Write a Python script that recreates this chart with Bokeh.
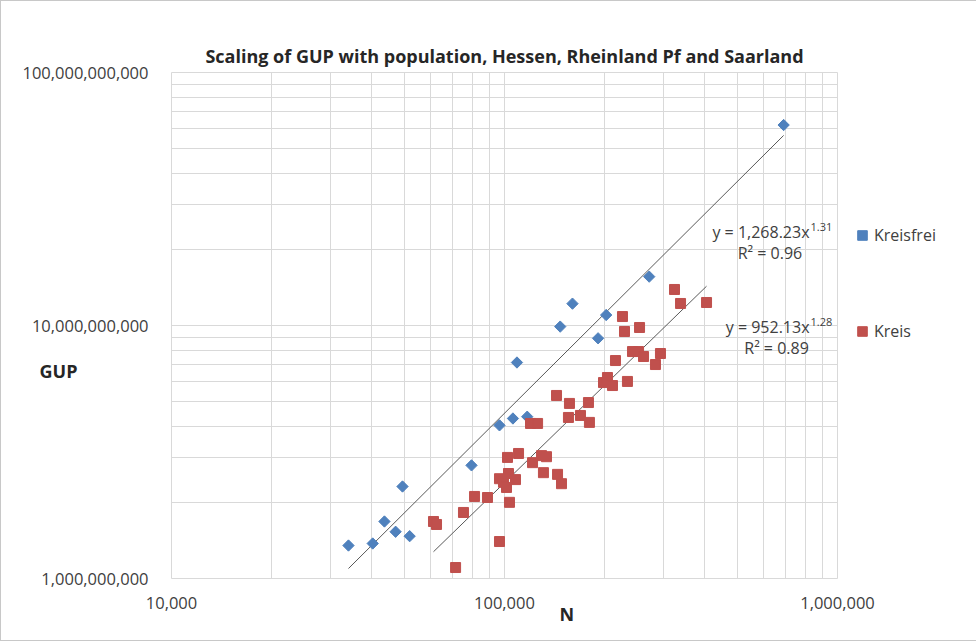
import math
from bokeh.plotting import figure
from bokeh.models import (Range1d, FixedTicker, NumeralTickFormatter, Legend,
                          LegendItem, Label, Title, ColumnDataSource)
from bokeh.embed import file_html
from bokeh.resources import INLINE

# ---------------- data ----------------
kreisfrei_n = [34000, 40200, 43600, 47100, 49400, 51900, 79600, 96600, 106000,
               117000, 109000, 147000, 160000, 191000, 202000, 272000, 689000]
kreisfrei_gup = [1.35e9, 1.375e9, 1.68e9, 1.53e9, 2.31e9, 1.47e9, 2.80e9, 4.03e9,
                 4.29e9, 4.36e9, 7.14e9, 9.9e9, 1.22e10, 8.9e9, 1.10e10, 1.56e10, 6.2e10]

kreis_n = [71300, 61200, 62500, 75300, 81300, 88900, 96600, 103500, 102100,
           110200, 96600, 99300, 102800, 101400, 107900, 119700, 125700, 121400,
           129200, 133700, 130900, 144300, 148300, 143300, 156700, 155600, 169100,
           179900, 178700, 198300, 203800, 211000, 215400, 234000, 226100, 229300,
           254400, 242300, 252700, 261500, 294000, 284000, 324000, 337800, 404300]
kreis_gup = [1.105e9, 1.68e9, 1.635e9, 1.824e9, 2.11e9, 2.09e9, 1.40e9, 2.0e9,
             3.01e9, 3.12e9, 2.48e9, 2.40e9, 2.60e9, 2.29e9, 2.46e9, 4.10e9, 4.10e9,
             2.87e9, 3.06e9, 3.03e9, 2.62e9, 2.58e9, 2.37e9, 5.29e9, 4.92e9, 4.33e9,
             4.41e9, 4.14e9, 4.96e9, 5.95e9, 6.23e9, 5.79e9, 7.27e9, 6.01e9, 1.085e10,
             9.47e9, 9.82e9, 7.89e9, 7.89e9, 7.54e9, 7.75e9, 7.01e9, 1.388e10,
             1.222e10, 1.233e10]

# power-law trendlines (coefficients as printed on the chart)
kreisfrei_a, kreisfrei_b, kreisfrei_r2 = 1268.23, 1.31, 0.96
kreis_a, kreis_b, kreis_r2 = 952.13, 1.28, 0.89

x_ticks = [1e4, 1e5, 1e6]
y_ticks = [1e9, 1e10, 1e11]

title_text = "Scaling of GUP with population, Hessen, Rheinland Pf and Saarland"

# ---------------- styles ----------------
BLUE = "#4F81BD"
RED = "#C0504D"
GRID = "#d9d9d9"
TXT = "#404040"
FONT = "Open Sans"

p = figure(frame_width=666, frame_height=506, x_axis_type="log", y_axis_type="log",
           x_range=Range1d(1e4, 1e6), y_range=Range1d(1e9, 1e11),
           output_backend="svg", toolbar_location=None,
           min_border_left=170, min_border_right=136,
           min_border_top=71, min_border_bottom=62,
           title=title_text)
p.styles = {"border": "1px solid #c8c8c8"}

p.title.align = "center"
p.title.text_font = FONT
p.title.text_font_size = "18px"
p.title.text_font_style = "bold"
p.title.text_color = "#262626"

p.outline_line_color = GRID
p.background_fill_color = "white"
p.border_fill_color = "white"

p.xaxis.ticker = FixedTicker(ticks=x_ticks,
                             minor_ticks=[m * 10 ** k for k in (4, 5) for m in range(2, 10)])
p.yaxis.ticker = FixedTicker(ticks=y_ticks,
                             minor_ticks=[m * 10 ** k for k in (9, 10) for m in range(2, 10)])
for ax in (p.xaxis[0], p.yaxis[0]):
    ax.formatter = NumeralTickFormatter(format="0,0")
    ax.axis_line_color = None
    ax.major_tick_line_color = None
    ax.minor_tick_line_color = None
    ax.major_label_text_font = FONT
    ax.major_label_text_font_size = "16.5px"
    ax.major_label_text_color = TXT
p.xaxis.major_label_standoff = 12
p.yaxis.major_label_standoff = 17

# y axis title, horizontal, sitting below the 10^10 label as in the reference
p.yaxis.axis_label = "\nGUP"
p.yaxis.axis_label_orientation = "horizontal"
p.yaxis.axis_label_text_font = FONT
p.yaxis.axis_label_text_font_size = "18px"
p.yaxis.axis_label_text_font_style = "bold"
p.yaxis.axis_label_text_color = "#262626"
p.yaxis.axis_label_text_line_height = 3.75
p.yaxis.axis_label_standoff = -58

for g in (p.xgrid[0], p.ygrid[0]):
    g.grid_line_color = GRID
    g.minor_grid_line_color = GRID

# x axis title, shifted right like the reference
p.add_layout(Title(text="N", align="left", offset=388, standoff=-24,
                   text_font=FONT, text_font_size="18px", text_font_style="bold",
                   text_color="#262626", text_baseline="bottom"), "below")

# trendlines
def trend(ns, a, b):
    xs = [min(ns), max(ns)]
    return xs, [a * x ** b for x in xs]

tx, ty = trend(kreisfrei_n, kreisfrei_a, kreisfrei_b)
p.line(tx, ty, line_color="#595959", line_width=1)
tx, ty = trend(kreis_n, kreis_a, kreis_b)
p.line(tx, ty, line_color="#595959", line_width=1)

src1 = ColumnDataSource(dict(n=kreisfrei_n, g=kreisfrei_gup,
                             ang=[math.pi / 4] * len(kreisfrei_n)))
r1 = p.scatter("n", "g", source=src1, marker="square", angle="ang",
               size=8, fill_color=BLUE, line_color=BLUE)
r2 = p.scatter(kreis_n, kreis_gup, marker="square", size=10,
               fill_color=RED, line_color=RED)

legend = Legend(items=[LegendItem(label="Kreisfrei", renderers=[r1], index=0),
                       LegendItem(label="Kreis", renderers=[r2])],
                location=(13, 235), spacing=72, glyph_width=24, glyph_height=24,
                label_height=24, label_standoff=0, padding=0, margin=0,
                border_line_color=None, background_fill_alpha=0,
                label_text_font=FONT, label_text_font_size="16px",
                label_text_color=TXT)
p.add_layout(legend, "right")

# equation labels
def lab(x, y, text, size="16px", align="center"):
    p.add_layout(Label(x=x, y=y, text=text, text_font=FONT, text_font_size=size,
                       text_color=TXT, text_align=align, text_baseline="middle"))

lab(824000, 2.352e10, "y = {:,.2f}x".format(kreisfrei_a), align="right")
lab(830000, 2.46e10, "{:.2f}".format(kreisfrei_b), size="11px", align="left")
lab(627000, 1.943e10, "R\u00b2 = {:.2f}".format(kreisfrei_r2))
lab(824000, 9.9e9, "y = {:,.2f}x".format(kreis_a), align="right")
lab(830000, 1.037e10, "{:.2f}".format(kreis_b), size="11px", align="left")
lab(656000, 8.18e9, "R\u00b2 = {:.2f}".format(kreis_r2))

open("out.html", "w").write(file_html(p, INLINE))
